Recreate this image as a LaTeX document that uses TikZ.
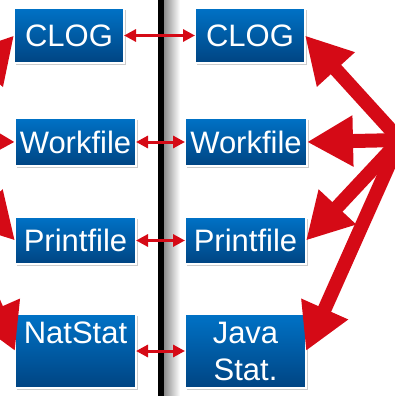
\documentclass[tikz,border=0pt]{standalone}
\usepackage{fontspec}
\setmainfont{Liberation Sans}
\usetikzlibrary{positioning,arrows.meta,shadows}
\definecolor{boxtop}{RGB}{0,114,198}
\definecolor{boxbot}{RGB}{0,68,130}
\definecolor{arrred}{RGB}{213,10,22}
\tikzset{>=Triangle}
\tikzset{
  filebox/.style={draw=white,line width=1.2pt,top color=boxtop,bottom color=boxbot,
    text=white,font=\fontsize{31}{37}\selectfont,inner sep=0pt,outer sep=0pt,align=center,
    drop shadow={shadow xshift=2pt,shadow yshift=-2pt,fill=black!40,opacity=0.5}},
  link/.style={draw=arrred,line width=3pt,{Triangle[length=12pt,width=12pt]}-{Triangle[length=12pt,width=12pt]}},
  bigarrow/.style={draw=arrred,line width=14pt,line cap=round,-{Triangle[length=46pt,width=48pt]}}
}

\begin{document}
\begin{tikzpicture}[x=1pt,y=-1pt]
\useasboundingbox (0,0) rectangle (395,396);
% divider with its shadow
\shade[left color=black!45,right color=white] (164,0) rectangle (180,396);
\draw[line width=6pt] (161,0) -- (161,396);
% left column
\node[filebox,minimum width=110pt,minimum height=55pt] (lclog) at (69,35.5) {CLOG};
\node[filebox,minimum width=121pt,minimum height=48pt] (lwork) at (75.5,142) {Workfile};
\node[filebox,minimum width=121pt,minimum height=47pt] (lprint) at (75.5,240.5) {Printfile};
\node[filebox,minimum width=121pt,minimum height=74pt] (lnat) at (75.5,351) {NatStat\\\mbox{}};
% right column
\node[filebox,minimum width=110pt,minimum height=55pt] (rclog) at (250,35.5) {CLOG};
\node[filebox,minimum width=122pt,minimum height=48pt] (rwork) at (246,142) {Workfile};
\node[filebox,minimum width=121pt,minimum height=47pt] (rprint) at (245.5,240.5) {Printfile};
\node[filebox,minimum width=121pt,minimum height=74pt] (rjava) at (245.5,351) {Java\\Stat.};
% links across the divider
\draw[link] (lclog.east) -- (rclog.west);
\draw[link] (lwork.east) -- (rwork.west);
\draw[link] (lprint.east) -- (rprint.west);
\draw[link] (lnat.east) -- (rjava.west);
% fans of big arrows
\coordinate (hubR) at (400,140);
\coordinate (hubL) at (-78,140);
\foreach \n in {rclog,rwork,rprint,rjava}
  \draw[bigarrow] (hubR) -- (\n.east);
\foreach \n in {lclog,lwork,lprint,lnat}
  \draw[bigarrow] (hubL) -- (\n.west);
\end{tikzpicture}
\end{document}
